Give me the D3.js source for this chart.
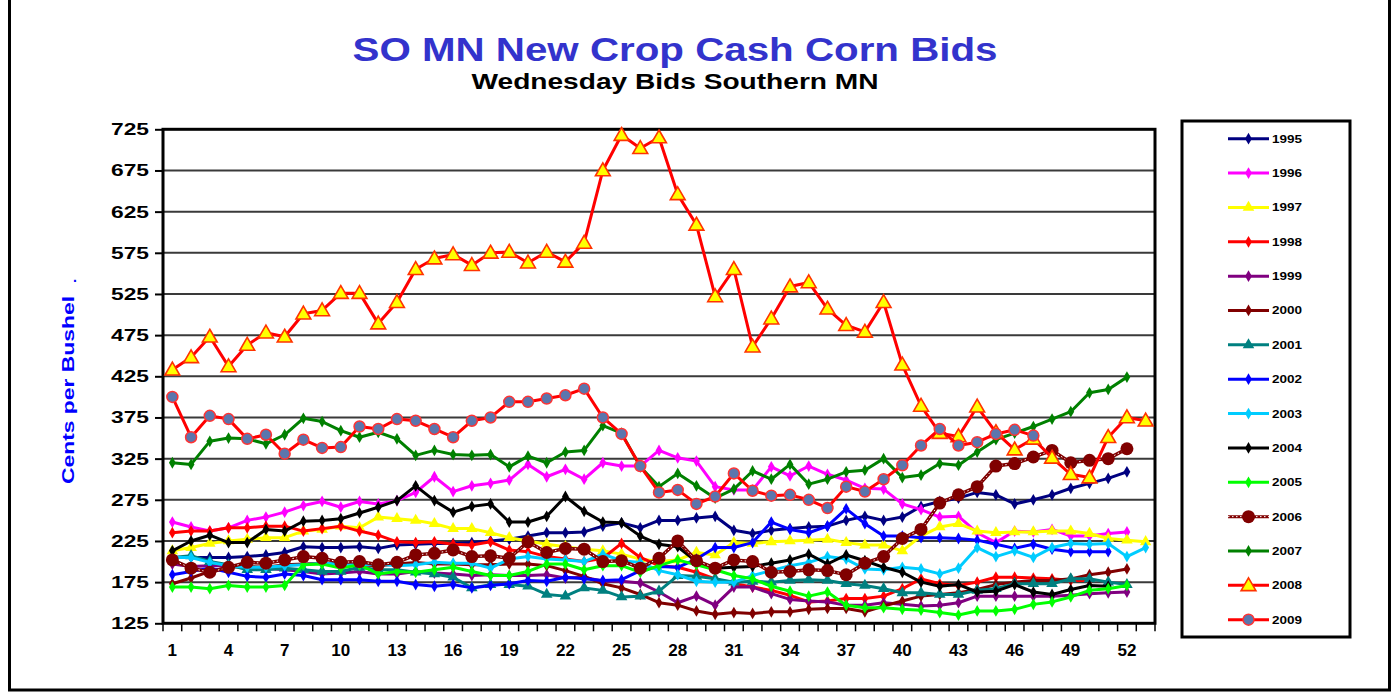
<!DOCTYPE html>
<html>
<head>
<meta charset="utf-8">
<script src="https://cdn.jsdelivr.net/npm/d3@7"></script>
<style>
  body { margin: 0; background: #fff; }
  text { font-family: Arial, "Liberation Sans", sans-serif; font-weight: bold; }
</style>
</head>
<body>
<svg id="chart" width="1398" height="700"></svg>
<script>
// --- DATA (cents per bushel, by week of year) ---
const weeks = d3.range(1, 54);
const yTicks = d3.range(125, 726, 50);
const xLabels = d3.range(1, 53, 3);

const y1995 = [205,205,205,205,206,208,211,218,217,217, 218,216,220,221,222,222,223,225,227,231, 235,235,236,243,247,241,250,250,253,255, 238,234,238,240,242,243,250,255,250,254, 267,273,277,284,281,270,275,281,289,295, 301,309];
const y1996 = [248,242,237,241,250,254,260,268,273,266, 273,270,274,284,303,285,292,295,299,318, 303,312,300,320,316,316,335,326,322,291, 287,287,315,304,316,306,299,289,288,270, 263,254,255,235,223,237,236,239,231,231, 234,236];
const y1997 = [213,217,222,225,227,229,229,237,239,243, 241,254,252,250,246,240,240,235,229,225, 221,218,215,213,209,203,200,202,211,208, 223,222,224,225,226,227,223,220,220,213, 231,242,246,237,235,236,236,237,237,234, 228,226,224];
const y1998 = [235,237,237,241,241,243,243,237,240,243, 237,232,224,223,224,221,220,224,214,212, 206,203,200,204,222,205,195,193,187,179, 173,169,165,159,151,152,155,155,158,167, 179,173,171,175,181,181,180,179,177,177];
const y1999 = [197,194,195,195,193,192,190,188,185,186, 188,185,185,188,186,185,183,184,183,183, 184,180,181,176,176,174,163,150,158,147, 169,169,161,154,152,151,147,147,150,148, 146,147,150,158,158,158,158,158,159,161, 162,163];
const y2000 = [173,180,188,193,194,193,196,197,198,198, 196,195,197,199,197,197,196,196,197,197, 195,189,182,173,168,160,150,147,140,136, 138,137,139,139,142,143,143,139,146,152, 158,160,162,166,172,175,177,177,179,184, 187,191];
const y2001 = [205,207,200,196,190,190,192,190,188,188, 193,190,190,187,185,181,168,172,172,170, 160,158,168,165,157,158,164,183,182,179, 175,176,175,177,178,177,173,171,167,162, 162,160,160,165,167,173,173,173,179,179, 175,172];
const y2002 = [184,188,192,187,182,181,185,183,178,178, 178,176,176,172,170,172,168,171,173,177, 176,181,179,177,178,189,194,193,203,217, 217,223,248,239,235,243,264,246,231,231, 229,229,228,226,221,216,221,215,212,212, 212];
const y2003 = [205,205,199,195,193,193,195,196,198,197, 196,197,195,196,199,198,198,192,203,206, 203,202,200,209,201,199,189,184,176,175, 175,183,189,195,199,206,203,191,190,193, 191,185,192,217,206,213,205,217,222,221, 222,206,217];
const y2004 = [213,225,232,223,223,239,237,249,250,252, 259,266,274,292,274,260,267,270,248,248, 255,279,261,248,247,231,221,218,200,192, 193,194,198,202,209,197,208,201,193,187, 175,170,172,163,164,172,163,160,166,171, 170];
const y2005 = [169,169,167,171,169,169,171,196,197,192, 196,185,188,187,190,193,188,183,183,188, 197,197,190,195,195,187,195,202,196,190, 183,179,170,164,158,163,147,144,144,142, 141,138,135,140,140,142,148,151,157,165, 167,171];
const y2006 = [202,192,187,193,199,198,202,206,204,199, 200,196,199,208,210,214,206,207,204,224, 211,216,215,200,201,192,204,225,201,192, 202,200,187,188,190,189,184,198,206,228, 239,271,281,291,316,319,327,335,320,323, 325,337];
const y2007 = [320,318,346,350,349,343,354,374,370,359, 351,357,349,329,335,330,329,330,315,328, 320,333,335,365,356,315,291,307,292,277, 288,310,300,318,294,300,309,311,325,302, 305,319,317,333,348,356,364,373,382,405, 409,424];
const y2008 = [433,448,473,437,463,478,473,501,505,526, 526,489,515,555,568,573,560,575,576,563, 576,564,587,675,718,702,715,646,609,522, 555,461,495,534,539,507,487,479,515,439, 389,356,352,388,357,336,349,326,306,302, 351,375,371];
const y2009 = [400,351,377,373,349,354,331,348,338,339, 364,361,373,371,361,351,371,375,394,394, 398,402,410,375,355,316,284,287,270,279, 307,286,280,281,275,265,291,285,300,317, 341,361,341,345,355,360,353];

// --- SERIES STYLE ---
const series = [
  { name: "1995", values: y1995, color: "#000080", marker: "diamond" },
  { name: "1996", values: y1996, color: "#FF00FF", marker: "diamond" },
  { name: "1997", values: y1997, color: "#FFFF00", marker: "triangle" },
  { name: "1998", values: y1998, color: "#FF0000", marker: "diamond" },
  { name: "1999", values: y1999, color: "#800080", marker: "diamond" },
  { name: "2000", values: y2000, color: "#800000", marker: "diamond" },
  { name: "2001", values: y2001, color: "#008080", marker: "triangle" },
  { name: "2002", values: y2002, color: "#0000FF", marker: "diamond" },
  { name: "2003", values: y2003, color: "#00CCFF", marker: "diamond" },
  { name: "2004", values: y2004, color: "#000000", marker: "diamond" },
  { name: "2005", values: y2005, color: "#00FF00", marker: "diamond" },
  { name: "2006", values: y2006, color: "#800000", marker: "bigcircle", dotted: true },
  { name: "2007", values: y2007, color: "#008000", marker: "diamond" },
  { name: "2008", values: y2008, color: "#FF0000", marker: "bigtriangle" },
  { name: "2009", values: y2009, color: "#FF0000", marker: "bluecircle" }
];

const svg = d3.select("#chart");

// --- OUTER FRAME & TITLES ---
svg.append("rect").attr("x", 9.5).attr("y", -10).attr("width", 1380).attr("height", 700)
  .attr("fill", "none").attr("stroke", "#000").attr("stroke-width", 3);

svg.append("text").attr("x", 675).attr("y", 61).attr("text-anchor", "middle")
  .attr("font-size", 34).attr("fill", "#3333CC")
  .attr("textLength", 645).attr("lengthAdjust", "spacingAndGlyphs")
  .text("SO MN New Crop Cash Corn Bids");
svg.append("text").attr("x", 675).attr("y", 89).attr("text-anchor", "middle")
  .attr("font-size", 22).attr("fill", "#000")
  .attr("textLength", 407).attr("lengthAdjust", "spacingAndGlyphs")
  .text("Wednesday Bids Southern MN");

// --- SCALES ---
const plot = { left: 163, right: 1155, top: 129.3, bottom: 623.3 };
const x = d3.scaleBand().domain(weeks).range([plot.left, plot.right]);
const cx = w => x(w) + x.bandwidth() / 2;
const y = d3.scaleLinear().domain([125, 725]).range([plot.bottom, plot.top]);

// gridlines
svg.append("g").selectAll("line").data(yTicks.slice(1, -1)).join("line")
  .attr("x1", plot.left).attr("x2", plot.right)
  .attr("y1", d => y(d)).attr("y2", d => y(d))
  .attr("stroke", "#3a3a3a").attr("stroke-width", 2);

// y axis
const yAxis = svg.append("g").attr("transform", `translate(${plot.left},0)`)
  .call(d3.axisLeft(y).tickValues(yTicks).tickSize(8).tickPadding(6));
yAxis.select(".domain").remove();
yAxis.selectAll(".tick line").attr("stroke", "#000").attr("stroke-width", 2);
yAxis.selectAll(".tick text").attr("font-size", 17).attr("font-family", "Arial, 'Liberation Sans', sans-serif")
  .attr("font-weight", "bold").attr("fill", "#000")
  .attr("textLength", 38).attr("lengthAdjust", "spacingAndGlyphs");

svg.append("text")
  .attr("transform", `translate(74,390) rotate(-90)`)
  .attr("text-anchor", "middle").attr("font-size", 17).attr("fill", "#0000FF")
  .attr("textLength", 188).attr("lengthAdjust", "spacingAndGlyphs")
  .text("Cents per Bushel");
svg.append("text").attr("x", 73).attr("y", 282).attr("font-size", 14).attr("fill", "#0000FF").text(".");

// x axis: ticks on category boundaries, labels every third week
const xTickPos = weeks.map(w => x(w)).concat([plot.right]);
svg.append("g").selectAll("line").data(xTickPos).join("line")
  .attr("x1", d => d).attr("x2", d => d)
  .attr("y1", plot.bottom).attr("y2", plot.bottom + 8)
  .attr("stroke", "#000").attr("stroke-width", 1.5);
svg.append("g").selectAll("text").data(xLabels).join("text")
  .attr("x", d => cx(d)).attr("y", 656).attr("text-anchor", "middle")
  .attr("font-size", 17).attr("fill", "#000")
  .text(d => d);

// plot border
svg.append("rect").attr("x", plot.left).attr("y", plot.top)
  .attr("width", plot.right - plot.left).attr("height", plot.bottom - plot.top)
  .attr("fill", "none").attr("stroke", "#000").attr("stroke-width", 3);

// --- MARKERS ---
function drawMarker(g, s, px, py) {
  if (s.marker === "diamond") {
    g.append("path").attr("transform", `translate(${px},${py})`)
      .attr("d", d3.symbol(d3.symbolDiamond, 40)()).attr("fill", s.color);
  } else if (s.marker === "triangle") {
    g.append("path").attr("transform", `translate(${px},${py})`)
      .attr("d", d3.symbol(d3.symbolTriangle, 58)()).attr("fill", s.color);
  } else if (s.marker === "bigtriangle") {
    g.append("path").attr("transform", `translate(${px},${py + 1})`)
      .attr("d", d3.symbol(d3.symbolTriangle, 95)())
      .attr("fill", "#FFFF00").attr("stroke", "#FF3300").attr("stroke-width", 1.6);
  } else if (s.marker === "bigcircle") {
    g.append("circle").attr("cx", px).attr("cy", py).attr("r", 6.5).attr("fill", s.color);
  } else if (s.marker === "bluecircle") {
    g.append("circle").attr("cx", px).attr("cy", py).attr("r", 5.5)
      .attr("fill", "#5B76AD").attr("stroke", "#FF3333").attr("stroke-width", 1.5);
  }
}

// --- LINES ---
const line = d3.line().defined(d => d.v != null).x(d => cx(d.w)).y(d => y(d.v));
const seriesG = svg.append("g");
series.forEach(s => {
  const pts = weeks.map((w, i) => ({ w, v: i < s.values.length ? s.values[i] : null }));
  const g = seriesG.append("g");
  g.append("path").datum(pts).attr("d", line).attr("fill", "none")
    .attr("stroke", s.color).attr("stroke-width", s.dotted ? 3.5 : 3)
    .attr("stroke-linejoin", "round");
  if (s.dotted) {
    g.append("path").datum(pts).attr("d", line).attr("fill", "none")
      .attr("stroke", "#fff").attr("stroke-width", 1).attr("stroke-dasharray", "1.5,2.5");
  }
  pts.filter(d => d.v != null).forEach(d => drawMarker(g, s, cx(d.w), y(d.v)));
});

// --- LEGEND ---
const legend = svg.append("g");
legend.append("rect").attr("x", 1182).attr("y", 121).attr("width", 168).attr("height", 516)
  .attr("fill", "#fff").attr("stroke", "#000").attr("stroke-width", 3);
const rowY = d3.scalePoint().domain(series.map(s => s.name)).range([138.7, 619.7]);
series.forEach(s => {
  const ry = rowY(s.name);
  const g = legend.append("g");
  g.append("line").attr("x1", 1228).attr("x2", 1269).attr("y1", ry).attr("y2", ry)
    .attr("stroke", s.color).attr("stroke-width", 3);
  if (s.dotted) {
    g.append("line").attr("x1", 1228).attr("x2", 1269).attr("y1", ry).attr("y2", ry)
      .attr("stroke", "#fff").attr("stroke-width", 1).attr("stroke-dasharray", "1.5,2.5");
  }
  drawMarker(g, s, 1248.5, ry);
  g.append("text").attr("x", 1272).attr("y", ry + 4).attr("font-size", 11).attr("fill", "#000")
    .attr("textLength", 30).attr("lengthAdjust", "spacingAndGlyphs")
    .text(s.name);
});
</script>
</body>
</html>
